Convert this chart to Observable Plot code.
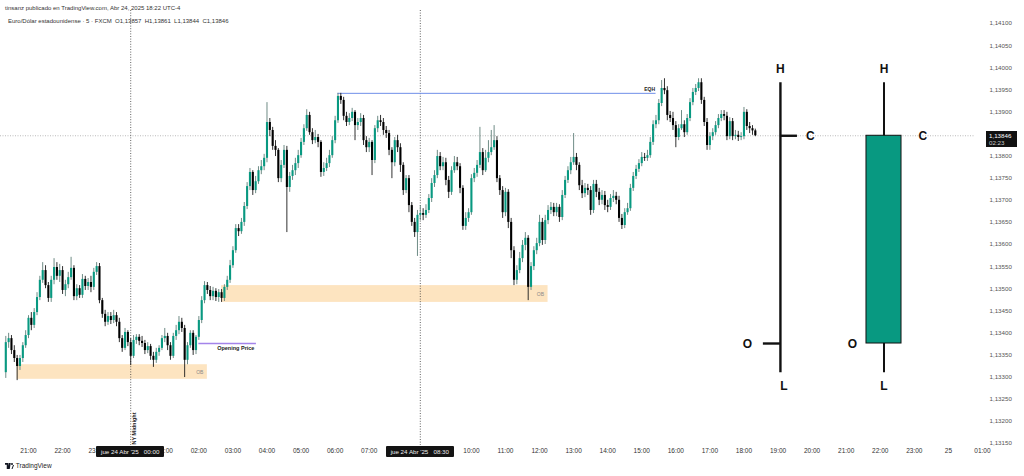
<!DOCTYPE html>
<html><head><meta charset="utf-8">
<script src="https://cdn.jsdelivr.net/npm/d3@7"></script>
<script src="https://cdn.jsdelivr.net/npm/@observablehq/plot@0.6"></script>
<style>
body{margin:0;background:#fff;font-family:"Liberation Sans",Arial,sans-serif;}
#wrap{position:relative;width:1024px;height:476px;overflow:hidden;background:#fff;}
#chart svg{display:block}
.ov{position:absolute;white-space:nowrap;}
</style></head><body>
<div id="wrap"><div id="chart"></div></div>
<script>
// ---- EUR/USD 5-minute candles, 23 Apr 20:20 -> 24 Apr 18:20 ----
const firstOpen = 1.13310;
const closes = [
1.13378,1.13387,1.13360,1.13342,1.13324,1.13342,1.13371,1.13394,
1.13433,1.13417,1.13446,1.13480,1.13519,1.13541,1.13507,1.13478,1.13519,1.13548,1.13528,1.13541,
1.13496,1.13509,1.13525,1.13546,1.13482,1.13500,1.13485,1.13521,1.13505,1.13514,1.13503,1.13537,
1.13550,1.13473,1.13442,1.13424,1.13437,1.13428,1.13439,1.13424,1.13387,1.13365,1.13401,1.13378,
1.13347,1.13383,1.13390,1.13381,1.13376,1.13360,1.13369,1.13347,1.13338,1.13356,1.13365,1.13387,
1.13392,1.13371,1.13347,1.13392,1.13405,1.13424,1.13410,1.13338,1.13371,1.13399,1.13360,1.13390,
1.13428,1.13473,1.13507,1.13496,1.13482,1.13494,1.13480,1.13491,1.13478,1.13503,1.13519,1.13552,
1.13586,1.13636,1.13629,1.13650,1.13686,1.13731,1.13763,1.13722,1.13742,1.13767,1.13776,1.13795,
1.13876,1.13858,1.13822,1.13813,1.13749,1.13779,1.13813,1.13729,1.13754,1.13767,1.13783,1.13801,
1.13831,1.13862,1.13892,1.13853,1.13835,1.13842,1.13831,1.13763,1.13772,1.13783,1.13801,1.13835,
1.13880,1.13935,1.13926,1.13890,1.13876,1.13885,1.13899,1.13869,1.13876,1.13885,1.13835,1.13819,
1.13831,1.13790,1.13862,1.13880,1.13876,1.13858,1.13851,1.13813,1.13785,1.13835,1.13819,1.13779,
1.13722,1.13749,1.13688,1.13650,1.13627,1.13666,1.13670,1.13666,1.13677,1.13704,1.13738,1.13756,
1.13799,1.13776,1.13785,1.13745,1.13718,1.13767,1.13785,1.13776,1.13727,1.13641,1.13659,1.13672,
1.13749,1.13761,1.13779,1.13808,1.13767,1.13795,1.13808,1.13819,1.13835,1.13749,1.13722,1.13672,
1.13718,1.13650,1.13586,1.13519,1.13541,1.13568,1.13598,1.13614,1.13503,1.13550,1.13586,1.13602,
1.13650,1.13609,1.13654,1.13677,1.13684,1.13672,1.13684,1.13661,1.13711,1.13745,1.13767,1.13785,
1.13797,1.13779,1.13733,1.13715,1.13727,1.13722,1.13677,1.13736,1.13718,1.13700,1.13711,1.13688,
1.13684,1.13704,1.13709,1.13700,1.13659,1.13643,1.13672,1.13681,1.13727,1.13754,1.13770,1.13783,
1.13797,1.13795,1.13801,1.13831,1.13871,1.13880,1.13919,1.13953,1.13948,1.13892,1.13885,1.13869,
1.13842,1.13862,1.13871,1.13853,1.13885,1.13921,1.13944,1.13953,1.13966,1.13926,1.13876,1.13824,
1.13844,1.13853,1.13869,1.13885,1.13894,1.13890,1.13844,1.13878,1.13844,1.13847,1.13842,1.13844,
1.13899,1.13867,1.13862,1.13857,1.13846];
const highs = [
1.13392,1.13399,1.13394,1.13371,1.13349,1.13349,1.13378,1.13405,
1.13439,1.13446,1.13455,1.13491,1.13528,1.13559,1.13552,1.13514,1.13528,1.13568,1.13559,1.13555,
1.13550,1.13519,1.13537,1.13571,1.13552,1.13509,1.13507,1.13532,1.13528,1.13523,1.13528,1.13546,
1.13559,1.13557,1.13478,1.13451,1.13446,1.13446,1.13451,1.13446,1.13433,1.13394,1.13410,1.13405,
1.13387,1.13394,1.13396,1.13396,1.13392,1.13383,1.13378,1.13374,1.13356,1.13365,1.13371,1.13394,
1.13410,1.13399,1.13378,1.13399,1.13417,1.13437,1.13433,1.13417,1.13378,1.13405,1.13405,1.13394,
1.13437,1.13482,1.13516,1.13514,1.13505,1.13503,1.13500,1.13498,1.13498,1.13509,1.13528,1.13564,
1.13595,1.13645,1.13645,1.13659,1.13695,1.13740,1.13772,1.13767,1.13754,1.13776,1.13790,1.13804,
1.13921,1.13885,1.13865,1.13835,1.13817,1.13790,1.13824,1.13822,1.13763,1.13779,1.13795,1.13813,
1.13840,1.13871,1.13905,1.13899,1.13862,1.13858,1.13849,1.13835,1.13785,1.13795,1.13813,1.13844,
1.13890,1.13942,1.13942,1.13933,1.13899,1.13896,1.13908,1.13903,1.13885,1.13896,1.13892,1.13844,
1.13840,1.13835,1.13869,1.13890,1.13892,1.13885,1.13867,1.13858,1.13819,1.13842,1.13847,1.13828,
1.13785,1.13756,1.13756,1.13695,1.13659,1.13677,1.13688,1.13681,1.13690,1.13713,1.13749,1.13767,
1.13813,1.13808,1.13797,1.13795,1.13754,1.13776,1.13799,1.13797,1.13783,1.13733,1.13672,1.13681,
1.13758,1.13772,1.13790,1.13865,1.13817,1.13813,1.13835,1.13858,1.13869,1.13844,1.13756,1.13731,
1.13727,1.13724,1.13659,1.13595,1.13552,1.13582,1.13609,1.13627,1.13620,1.13559,1.13595,1.13614,
1.13666,1.13659,1.13666,1.13688,1.13695,1.13693,1.13693,1.13690,1.13722,1.13754,1.13776,1.13797,
1.13851,1.13806,1.13785,1.13745,1.13738,1.13736,1.13731,1.13745,1.13745,1.13727,1.13722,1.13720,
1.13700,1.13713,1.13722,1.13718,1.13709,1.13668,1.13681,1.13693,1.13736,1.13763,1.13779,1.13792,
1.13808,1.13806,1.13813,1.13842,1.13880,1.13892,1.13928,1.13971,1.13975,1.13957,1.13901,1.13899,
1.13878,1.13871,1.13903,1.13880,1.13894,1.13930,1.13953,1.13962,1.13975,1.13975,1.13933,1.13885,
1.13853,1.13862,1.13878,1.13894,1.13903,1.13903,1.13899,1.13887,1.13885,1.13858,1.13856,1.13853,
1.13910,1.13905,1.13876,1.13869,1.13861];
const lows = [
1.13297,1.13365,1.13351,1.13333,1.13292,1.13315,1.13333,1.13365,
1.13387,1.13405,1.13410,1.13439,1.13473,1.13512,1.13500,1.13469,1.13469,1.13509,1.13519,1.13514,
1.13487,1.13482,1.13500,1.13519,1.13473,1.13473,1.13478,1.13478,1.13496,1.13496,1.13491,1.13496,
1.13530,1.13466,1.13433,1.13414,1.13417,1.13419,1.13421,1.13414,1.13378,1.13356,1.13360,1.13369,
1.13326,1.13342,1.13374,1.13371,1.13367,1.13351,1.13353,1.13338,1.13322,1.13331,1.13347,1.13360,
1.13378,1.13360,1.13338,1.13342,1.13383,1.13396,1.13401,1.13299,1.13328,1.13365,1.13349,1.13351,
1.13383,1.13421,1.13466,1.13487,1.13473,1.13473,1.13471,1.13469,1.13469,1.13471,1.13496,1.13512,
1.13546,1.13580,1.13618,1.13623,1.13641,1.13679,1.13722,1.13711,1.13715,1.13736,1.13758,1.13767,
1.13785,1.13844,1.13813,1.13799,1.13740,1.13740,1.13772,1.13627,1.13718,1.13745,1.13756,1.13772,
1.13795,1.13824,1.13856,1.13847,1.13826,1.13828,1.13819,1.13752,1.13754,1.13765,1.13774,1.13795,
1.13828,1.13874,1.13917,1.13880,1.13867,1.13869,1.13878,1.13835,1.13858,1.13867,1.13824,1.13808,
1.13808,1.13756,1.13783,1.13853,1.13867,1.13847,1.13840,1.13801,1.13749,1.13776,1.13808,1.13763,
1.13711,1.13715,1.13672,1.13641,1.13616,1.13573,1.13654,1.13654,1.13659,1.13670,1.13695,1.13729,
1.13749,1.13767,1.13767,1.13733,1.13704,1.13711,1.13761,1.13767,1.13715,1.13632,1.13632,1.13650,
1.13666,1.13740,1.13752,1.13772,1.13756,1.13763,1.13785,1.13801,1.13813,1.13740,1.13711,1.13659,
1.13663,1.13636,1.13568,1.13507,1.13509,1.13534,1.13559,1.13586,1.13473,1.13496,1.13541,1.13577,
1.13595,1.13598,1.13600,1.13645,1.13668,1.13663,1.13663,1.13650,1.13654,1.13704,1.13738,1.13758,
1.13779,1.13767,1.13722,1.13704,1.13706,1.13711,1.13666,1.13670,1.13706,1.13688,1.13690,1.13677,
1.13672,1.13677,1.13695,1.13690,1.13650,1.13634,1.13636,1.13666,1.13675,1.13720,1.13747,1.13763,
1.13776,1.13788,1.13788,1.13795,1.13824,1.13862,1.13871,1.13912,1.13939,1.13880,1.13876,1.13858,
1.13819,1.13835,1.13858,1.13842,1.13847,1.13878,1.13914,1.13937,1.13946,1.13917,1.13867,1.13813,
1.13813,1.13835,1.13847,1.13862,1.13878,1.13880,1.13835,1.13837,1.13835,1.13837,1.13833,1.13835,
1.13837,1.13858,1.13851,1.13847,1.13844];

// hour labels of the time axis, one per hour starting 23 Apr 21:00
const hourLabels = ["21:00","22:00","23:00","00:00","01:00","02:00","03:00","04:00","05:00","06:00","07:00","08:00","09:00","10:00","11:00","12:00","13:00","14:00","15:00","16:00","17:00","18:00","19:00","20:00","21:00","22:00","23:00","25","01:00"];
// price axis tick values
const priceTicks = [1.1315,1.1320,1.1325,1.1330,1.1335,1.1340,1.1345,1.1350,1.1355,1.1360,1.1365,1.1370,1.1375,1.1380,1.1390,1.1395,1.1400,1.1405,1.1410];
// annotations (times in hours after 23 Apr 21:00)
const obNames = ["OB","OB"];
const obStart = [-1/3, 17/3];
const obEnd = [5.25, 15.25];
const obTop = [1.13328, 1.13507];
const obBottom = [1.13295, 1.13469];
const eqhPrice = 1.13942, eqhStart = 9 + 5/60, eqhEnd = 18.42;
const openingPrice = 1.13376, openStart = 5, openEnd = 6.69;
const sessionLines = [3, 11.5]; // 00:00 NY midnight, 08:30
const sessionLabels = ["jue 24 Abr '25\u00a0\u00a0\u00a000:00", "jue 24 Abr '25\u00a0\u00a0\u00a008:30"];
const lastPrice = 1.13846, lastTimer = "02:23";
// OHLC schematic
const ohlcKeys = ["O","H","L","C"];
const ohlcValues = [1.13376, 1.13966, 1.13310, 1.13846];

const GREEN = "#089981";
const startH = -40/60;
const candles = closes.map((c, i) => ({
  t: startH + i * 5 / 60,
  open: i === 0 ? firstOpen : closes[i - 1],
  high: highs[i], low: lows[i], close: c
}));
candles.forEach(d => d.up = d.close >= d.open);
const obZones = obNames.map((n, i) => ({name: n, x1: obStart[i], x2: obEnd[i], y1: obBottom[i], y2: obTop[i]}));
const ohlc = Object.fromEntries(ohlcKeys.map((k, i) => [k, ohlcValues[i]]));
// hour labels hidden behind the crosshair date boxes
const hourTicks = hourLabels.map((label, h) => ({h, label}))
  .filter(d => sessionLines.every(s => Math.abs(d.h - s) > 0.75));

const PX_PER_H = 34.07, PX_PER_P = 44200;
const lineX = 22.07, candX = 25.11, candHalf = 0.514, tickLen = 0.5;
const fmt = v => v.toFixed(5).replace(".", ",");

const chart = Plot.plot({
  width: 1024, height: 476,
  marginLeft: 0, marginRight: 49, marginTop: 0, marginBottom: 0,
  x: {domain: [-28 / PX_PER_H, 947 / PX_PER_H], axis: null},
  y: {domain: [1.141 - 453 / PX_PER_P, 1.141 + 23 / PX_PER_P], axis: null},
  style: {fontFamily: "Liberation Sans, Arial, sans-serif", background: "white", overflow: "visible"},
  marks: [
    Plot.rect(obZones, {x1: "x1", x2: "x2", y1: "y1", y2: "y2", fill: "#fde4c0"}),
    Plot.ruleY([lastPrice], {stroke: "#a8a8a8", strokeDasharray: "1,1.5", strokeWidth: 0.8}),
    Plot.ruleX(sessionLines, {stroke: "#3a3a3a", strokeDasharray: "1,1.6", strokeWidth: 0.8, insetTop: 10, insetBottom: 31}),
    Plot.ruleY([eqhPrice], {x1: eqhStart, x2: eqhEnd, stroke: "#6f8fe8", strokeWidth: 1}),
    Plot.ruleY([openingPrice], {x1: openStart, x2: openEnd, stroke: "#a484ea", strokeWidth: 1.3}),
    // candles
    Plot.ruleX(candles, {x: "t", y1: "low", y2: "high", stroke: d => d.up ? "#5f7f78" : "#1a1a1a", strokeWidth: 0.9}),
    Plot.ruleX(candles, {x: "t", y1: "open", y2: "close", stroke: d => d.up ? GREEN : "#000", strokeWidth: 2.1}),
    // annotation labels
    Plot.text(obZones, {x: "x2", y: d => (d.y1 + d.y2) / 2, text: "name", textAnchor: "end", dx: -4, fontSize: 5, fill: "#8a8a8a"}),
    Plot.text(["EQH"], {x: eqhEnd, y: eqhPrice, text: d => d, textAnchor: "end", dx: -1, dy: -4, fontSize: 5, fontWeight: "bold", fill: "#222"}),
    Plot.text(["Opening Price"], {x: openEnd, y: openingPrice, text: d => d, textAnchor: "end", dx: -2, dy: 5, fontSize: 5.5, fontWeight: "bold", fill: "#222"}),
    Plot.text(["NY Midnight"], {x: sessionLines[0], text: d => d, frameAnchor: "bottom", dy: -48, dx: 5, rotate: -90, fontSize: 5.5, fontWeight: "bold", fill: "#222"}),
    // time axis labels
    Plot.text(hourTicks, {x: "h", text: "label", frameAnchor: "bottom", dy: -23.5, fontSize: 6.5, fill: "#333", fontWeight: d => d.label === "25" ? "bold" : "normal"}),
    // price axis
    Plot.axisY(priceTicks, {anchor: "right", tickSize: 0, tickPadding: 14, tickFormat: fmt, fontSize: 6.2, fill: "#555", label: null}),
    // OHLC schematic: bar
    Plot.ruleX([lineX], {y1: ohlc.L, y2: ohlc.H, stroke: "#111", strokeWidth: 2.4}),
    Plot.ruleY([ohlc.C], {x1: lineX, x2: lineX + tickLen, stroke: "#111", strokeWidth: 2.4}),
    Plot.ruleY([ohlc.O], {x1: lineX - tickLen, x2: lineX, stroke: "#111", strokeWidth: 2.4}),
    Plot.text(["H"], {x: lineX, y: ohlc.H, text: d => d, dy: -14, fontSize: 12, fontWeight: "bold", fill: "#111"}),
    Plot.text(["L"], {x: lineX + 0.1, y: ohlc.L, text: d => d, dy: 13, fontSize: 12, fontWeight: "bold", fill: "#111"}),
    Plot.text(["C"], {x: lineX + 0.88, y: ohlc.C, text: d => d, fontSize: 12, fontWeight: "bold", fill: "#111"}),
    Plot.text(["O"], {x: lineX - 0.97, y: ohlc.O, text: d => d, dy: 1, fontSize: 12, fontWeight: "bold", fill: "#111"}),
    // OHLC schematic: candle
    Plot.ruleX([candX], {y1: ohlc.L, y2: ohlc.H, stroke: "#111", strokeWidth: 2}),
    Plot.rect([ohlc], {x1: candX - candHalf, x2: candX + candHalf, y1: "O", y2: "C", fill: GREEN, stroke: "#111", strokeWidth: 1}),
    Plot.text(["H"], {x: candX, y: ohlc.H, text: d => d, dy: -14, fontSize: 12, fontWeight: "bold", fill: "#111"}),
    Plot.text(["L"], {x: candX, y: ohlc.L, text: d => d, dy: 13, fontSize: 12, fontWeight: "bold", fill: "#111"}),
    Plot.text(["C"], {x: candX + 1.14, y: ohlc.C, text: d => d, fontSize: 12, fontWeight: "bold", fill: "#111"}),
    Plot.text(["O"], {x: candX - 0.93, y: ohlc.O, text: d => d, dy: 1, fontSize: 12, fontWeight: "bold", fill: "#111"})
  ]
});
document.getElementById("chart").appendChild(chart);

const xs = chart.scale("x"), ys = chart.scale("y");
const wrap = document.getElementById("wrap");
function ov(html, css) {
  const d = document.createElement("div");
  d.className = "ov"; d.innerHTML = html; Object.assign(d.style, css); wrap.appendChild(d); return d;
}
// header
ov("tinsanz publicado en TradingView.com, Abr 24, 2025 18:22 UTC-4", {left: "5px", top: "5px", fontSize: "6px", color: "#333"});
const last = candles[candles.length - 1];
ov(`Euro/Dólar estadounidense · 5 · FXCM &nbsp;O${fmt(last.open)} &nbsp;H${fmt(last.high)} &nbsp;L${fmt(last.low)} &nbsp;C${fmt(last.close)}`, {left: "8px", top: "17.5px", fontSize: "6px", color: "#333"});
// footer with logo
ov('<svg width="9" height="6" viewBox="0 0 36 24" style="vertical-align:-0.5px"><path d="M0 0h14v24H7V7H0z M16 0h7l-4 24h-7z" fill="#131722"/><circle cx="28" cy="4" r="4" fill="#131722"/><path d="M26 24l6-16h4l-6 16z" fill="#131722"/></svg>&nbsp;TradingView', {left: "5px", top: "462px", fontSize: "6.5px", color: "#222"});
// crosshair date boxes on the time axis
sessionLines.forEach((h, i) => {
  ov(sessionLabels[i], {left: (xs.apply(h) - 34) + "px", top: "446px", width: "68px", height: "11px", lineHeight: "11px", textAlign: "center", background: "#131313", color: "#eee", fontSize: "6.2px", borderRadius: "1px"});
});
// last price box on the price axis
ov(`${fmt(lastPrice)}<br><span style="color:#ccc">${lastTimer}</span>`, {left: "986px", top: (ys.apply(lastPrice) - 4) + "px", width: "31px", height: "16px", lineHeight: "7.5px", padding: "0.5px 0 0 3px", boxSizing: "border-box", background: "#111", color: "#fff", fontSize: "6.2px"});
</script>
</body></html>
